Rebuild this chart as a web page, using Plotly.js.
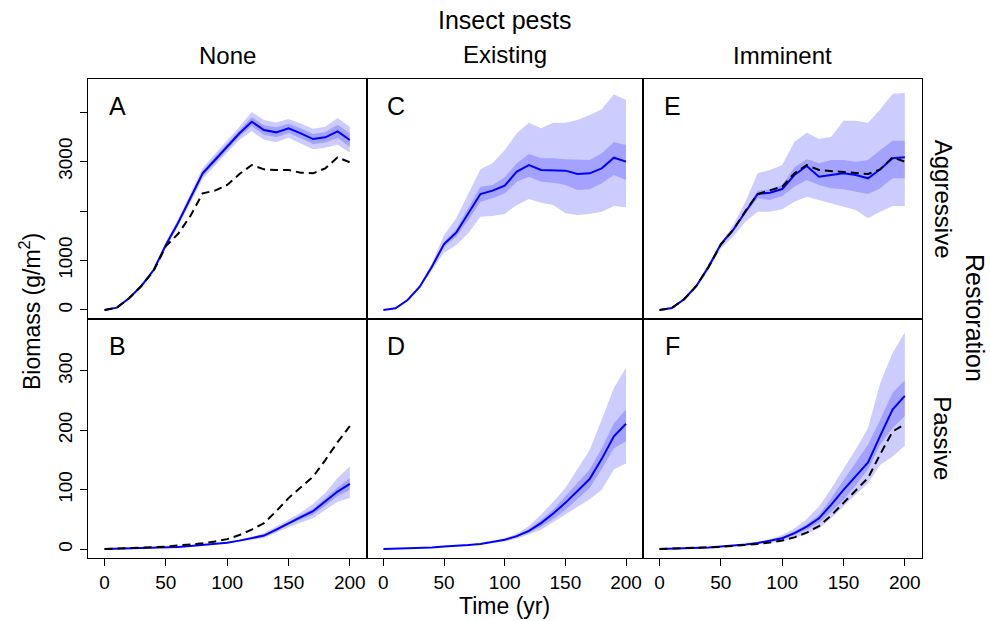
<!DOCTYPE html>
<html>
<head>
<meta charset="utf-8">
<script src="https://cdn.plot.ly/plotly-3.0.1.min.js"></script>
<style>html,body{margin:0;padding:0;background:#fff;}#chart{width:990px;height:621px;}</style>
</head>
<body>
<div id="chart"></div>
<script>
// ---- data ----
const years = [0,10,20,30,40,50,60,70,80,90,100,110,120,130,140,150,160,170,180,190,200];

// Panel A: Aggressive restoration, no insect pests
const aggNoneMed  = [0,47,236,485,808,1313,1764,2256,2761,3030,3300,3570,3805,3636,3589,3670,3569,3454,3488,3609,3434];
const aggNoneHi95 = [0,52,250,505,850,1380,1840,2340,2870,3150,3420,3700,4000,3840,3790,3860,3770,3660,3700,3880,3700];
const aggNoneLo95 = [0,42,222,465,765,1245,1690,2170,2650,2910,3180,3440,3610,3440,3390,3480,3370,3250,3280,3340,3180];
const aggNoneHi50 = [0,49,243,495,830,1345,1800,2300,2815,3090,3360,3635,3900,3735,3690,3765,3670,3555,3595,3745,3570];
const aggNoneLo50 = [0,45,229,475,786,1280,1728,2212,2705,2970,3240,3505,3710,3540,3490,3575,3470,3355,3385,3475,3300];
const aggNoneRef  = [0,47,236,485,790,1290,1540,1900,2357,2411,2525,2747,2929,2842,2828,2828,2774,2761,2862,3084,2983];

// Panel C: Aggressive restoration, existing insect pests
const aggExistMed  = [0,34,202,471,875,1333,1562,1953,2343,2411,2512,2795,2929,2828,2828,2815,2747,2761,2862,3077,2997];
const aggExistHi95 = [0,54,215,505,943,1515,1852,2357,2842,2963,3232,3569,3785,3670,3785,3785,3838,3939,4054,4357,4243];
const aggExistLo95 = [0,27,189,438,808,1158,1313,1549,1886,1899,1939,2121,2242,2168,2121,1953,1919,1939,1986,2101,2074];
const aggExistHi50 = [0,38,210,490,900,1380,1630,2074,2492,2525,2680,2963,3152,3064,3064,3044,3030,3030,3165,3394,3333];
const aggExistLo50 = [0,30,195,455,850,1279,1481,1818,2189,2256,2357,2593,2694,2593,2572,2525,2424,2438,2559,2727,2626];

// Panel E: Aggressive restoration, imminent insect pests
const aggImmMed  = [0,40,216,485,875,1333,1616,1986,2343,2370,2444,2727,2909,2694,2721,2761,2727,2660,2842,3064,3084];
const aggImmHi95 = [0,54,236,518,943,1347,1717,2189,2761,2828,2929,3401,3582,3454,3501,3825,3825,3785,4054,4364,4391];
const aggImmLo95 = [0,27,189,438,808,1246,1481,1785,1986,1986,2034,2189,2290,2222,2155,2088,2020,1852,1986,2101,2101];
const aggImmHi50 = [0,45,222,495,895,1360,1650,2000,2411,2438,2525,2882,3044,2963,3030,3030,2997,3030,3232,3421,3421];
const aggImmLo50 = [0,35,210,475,855,1300,1580,1950,2256,2222,2303,2492,2626,2525,2458,2438,2391,2343,2458,2660,2660];
const aggImmRef  = [0,40,216,485,870,1320,1616,2000,2343,2411,2492,2761,2929,2828,2808,2795,2774,2747,2842,3084,2997];

// Panel B: Passive restoration, no insect pests
const pasNoneMed  = [0.5,1,1.5,2,2.5,3,4,5.5,7,9,11,14.5,18.5,23,33,44,54,64,80,97,110];
const pasNoneHi95 = [0.5,1,1.5,2,2.5,3,4,5.5,7,9.5,12,16,21,27,38,50,62,76,95,120,139];
const pasNoneLo95 = [0.5,1,1.5,2,2.5,3,4,5,6.5,8.5,10,13,16,19,28,37,45,52,66,80,86];
const pasNoneHi50 = [0.5,1,1.5,2,2.5,3,4,5.5,7,9.2,11.5,15,19.5,25,35,46,57,68,86,104,120];
const pasNoneLo50 = [0.5,1,1.5,2,2.5,3,4,5.2,6.8,8.8,10.5,14,17.5,21,30,41,50,58,73,89,100];
const pasNoneRef  = [0.5,1,1.5,2.5,3.5,4.5,6,8,10,13,17,24,33,44,64,86,104,122,150,180,207];

// Panel D: Passive restoration, existing insect pests
const pasExistMed  = [0.5,1,1.5,2,3,4.5,5.5,7,9,12,16,22,31,44,60,78,98,118,152,190,211];
const pasExistHi95 = [0.5,1,1.5,2,3,4.5,5.8,7.5,10,13,18.5,26,39,58,80,103,135,167,218,271,305];
const pasExistLo95 = [0.5,1,1.5,2,2.8,4.2,5.2,6.5,8.2,10.5,13,18,25,33,45,58,71,84,100,134,144];
const pasExistHi50 = [0.5,1,1.5,2,3,4.5,5.6,7.2,9.3,12.5,17,23.5,34,49,67,89,111,134,170,212,235];
const pasExistLo50 = [0.5,1,1.5,2,3,4.4,5.4,6.8,8.7,11.5,15,20.5,28,38,51,66,84,103,135,170,181];

// Panel F: Passive restoration, imminent insect pests
const pasImmMed  = [0.5,1,1.5,2,3,4.5,6,8,10.5,14,18.5,27,38,52,75,100,123,146,191,235,258];
const pasImmHi95 = [0.5,1,1.5,2,3,5,6.5,9,12,17,24,35,51,72,102,134,168,204,280,330,365];
const pasImmLo95 = [0.5,1,1.5,2,2.6,3.8,5,6.5,8.5,10.5,13,19,26,35,52,72,92,111,142,156,174];
const pasImmHi50 = [0.5,1,1.5,2,3,4.7,6.3,8.5,11,15,20.5,30,42,58,86,117,146,176,218,263,284];
const pasImmLo50 = [0.5,1,1.5,2,2.9,4.3,5.7,7.5,10,13,17,24,33,44,63,83,108,134,176,204,224];
const pasImmRef  = [0.5,1,1.5,2,2.8,4,5.5,7,9,11.5,14.6,20,28,39,57,78,99,120,160,198,210];

const xTickVals = [0,50,100,150,200];
const yTopTickVals = [0,1000,3000];          // labelled ticks
const yTopMinorTickVals = [2000,4000];       // unlabelled ticks
const yBotTickVals = [0,100,200,300];

const colTitles = ['None','Existing','Imminent'];
const rowTitles = ['Aggressive','Passive'];
const panelLetters = [['A','C','E'],['B','D','F']];

// ---- build ----
const W = 990, H = 621;
const colPx = [[88,367],[367,643],[643,922]];
const rowPx = [[79,318.5],[318.5,558]];
const px2x = p => p / W;
const py2y = p => 1 - p / H;

const panels = [
  {row:0,col:0,med:aggNoneMed,hi95:aggNoneHi95,lo95:aggNoneLo95,hi50:aggNoneHi50,lo50:aggNoneLo50,ref:aggNoneRef},
  {row:0,col:1,med:aggExistMed,hi95:aggExistHi95,lo95:aggExistLo95,hi50:aggExistHi50,lo50:aggExistLo50,ref:null},
  {row:0,col:2,med:aggImmMed,hi95:aggImmHi95,lo95:aggImmLo95,hi50:aggImmHi50,lo50:aggImmLo50,ref:aggImmRef},
  {row:1,col:0,med:pasNoneMed,hi95:pasNoneHi95,lo95:pasNoneLo95,hi50:pasNoneHi50,lo50:pasNoneLo50,ref:pasNoneRef},
  {row:1,col:1,med:pasExistMed,hi95:pasExistHi95,lo95:pasExistLo95,hi50:pasExistHi50,lo50:pasExistLo50,ref:null},
  {row:1,col:2,med:pasImmMed,hi95:pasImmHi95,lo95:pasImmLo95,hi50:pasImmHi50,lo50:pasImmLo50,ref:pasImmRef}
];

const FONT = 'Arial, "Liberation Sans", Helvetica, sans-serif';
const traces = [];
const layout = {
  width: W, height: H,
  margin: {l:0,r:0,t:0,b:0},
  paper_bgcolor: '#ffffff', plot_bgcolor: '#ffffff',
  showlegend: false,
  font: {family: FONT, color: '#000', size: 19},
  annotations: []
};

const revYears = years.slice().reverse();
panels.forEach((p, i) => {
  const n = i + 1;
  const xs = n === 1 ? 'x' : 'x' + n;
  const ys = n === 1 ? 'y' : 'y' + n;
  const band = (hi, lo) => ({
    x: years.concat(revYears), y: hi.concat(lo.slice().reverse()),
    xaxis: xs, yaxis: ys, type: 'scatter', mode: 'lines', fill: 'toself',
    fillcolor: 'rgba(0,0,255,0.2)', line: {width: 0, color: 'rgba(0,0,0,0)'}, hoverinfo: 'skip'
  });
  traces.push(band(p.hi95, p.lo95));
  traces.push(band(p.hi50, p.lo50));
  traces.push({x: years, y: p.med, xaxis: xs, yaxis: ys, type: 'scatter', mode: 'lines',
    line: {color: 'rgb(0,0,255)', width: 2}});
  if (p.ref) traces.push({x: years, y: p.ref, xaxis: xs, yaxis: ys, type: 'scatter', mode: 'lines',
    line: {color: '#000', width: 2, dash: '8px,5px'}});

  const bottom = p.row === 1, left = p.col === 0;
  const xk = n === 1 ? 'xaxis' : 'xaxis' + n;
  const yk = n === 1 ? 'yaxis' : 'yaxis' + n;
  const xa = {
    domain: [px2x(colPx[p.col][0]), px2x(colPx[p.col][1])],
    anchor: ys, range: [-13.5, 214], showgrid: false, zeroline: false,
    showline: true, mirror: true, linecolor: '#000', linewidth: 1,
    showticklabels: bottom, fixedrange: true,
    tickfont: {size: 19, color: '#000', family: FONT}
  };
  if (bottom) {
    Object.assign(xa, {ticks: 'outside', ticklen: 7, tickwidth: 1, tickcolor: '#000',
      tickmode: 'array', tickvals: xTickVals});
  } else {
    Object.assign(xa, {ticks: '', tickmode: 'array', tickvals: []});
  }
  layout[xk] = xa;
  const ya = {
    domain: [py2y(rowPx[p.row][1]), py2y(rowPx[p.row][0])],
    anchor: xs, range: p.row === 0 ? [-172, 4667] : [-14.7, 388],
    showgrid: false, zeroline: false,
    showline: true, mirror: true, linecolor: '#000', linewidth: 1,
    showticklabels: left, tickangle: -90, fixedrange: true,
    tickfont: {size: 19, color: '#000', family: FONT}
  };
  if (left) {
    Object.assign(ya, {ticks: 'outside', ticklen: 7, tickwidth: 1, tickcolor: '#000',
      tickmode: 'array', tickvals: p.row === 0 ? yTopTickVals : yBotTickVals});
    if (p.row === 0) {
      ya.minor = {tickmode: 'array', tickvals: yTopMinorTickVals, ticks: 'outside',
        ticklen: 7, tickwidth: 1, tickcolor: '#000', showgrid: false};
    }
  } else {
    Object.assign(ya, {ticks: '', tickmode: 'array', tickvals: []});
  }
  layout[yk] = ya;
  // panel letter
  layout.annotations.push({
    xref: 'paper', yref: 'paper', x: px2x(colPx[p.col][0] + 29), y: py2y(rowPx[p.row][0] + 27),
    text: panelLetters[p.row][p.col], showarrow: false, xanchor: 'center', yanchor: 'middle',
    font: {size: 25, color: '#000', family: FONT}
  });
});

// column titles
const colTitleY = [56, 55, 56];
colTitles.forEach((t, c) => {
  layout.annotations.push({xref:'paper', yref:'paper', x: px2x((colPx[c][0]+colPx[c][1])/2), y: py2y(colTitleY[c]),
    text: t, showarrow:false, xanchor:'center', yanchor:'middle', font:{size:24, color:'#000', family: FONT}});
});
layout.annotations.push({xref:'paper', yref:'paper', x: px2x(505), y: py2y(20),
  text: 'Insect pests', showarrow:false, xanchor:'center', yanchor:'middle', font:{size:25, color:'#000', family: FONT}});
// row titles
rowTitles.forEach((t, r) => {
  layout.annotations.push({xref:'paper', yref:'paper', x: px2x(943), y: py2y((rowPx[r][0]+rowPx[r][1])/2),
    text: t, textangle: 90, showarrow:false, xanchor:'center', yanchor:'middle', font:{size:24, color:'#000', family: FONT}});
});
layout.annotations.push({xref:'paper', yref:'paper', x: px2x(975), y: py2y(318),
  text: 'Restoration', textangle: 90, showarrow:false, xanchor:'center', yanchor:'middle', font:{size:25, color:'#000', family: FONT}});
// axis titles
layout.annotations.push({xref:'paper', yref:'paper', x: px2x(30), y: py2y(312),
  text: 'Biomass (g/m<sup>2</sup>)', textangle: -90, showarrow:false, xanchor:'center', yanchor:'middle', font:{size:23, color:'#000', family: FONT}});
layout.annotations.push({xref:'paper', yref:'paper', x: px2x(505), y: py2y(606),
  text: 'Time (yr)', showarrow:false, xanchor:'center', yanchor:'middle', font:{size:23, color:'#000', family: FONT}});

Plotly.newPlot('chart', traces, layout, {staticPlot: true, displayModeBar: false});
</script>
</body>
</html>
